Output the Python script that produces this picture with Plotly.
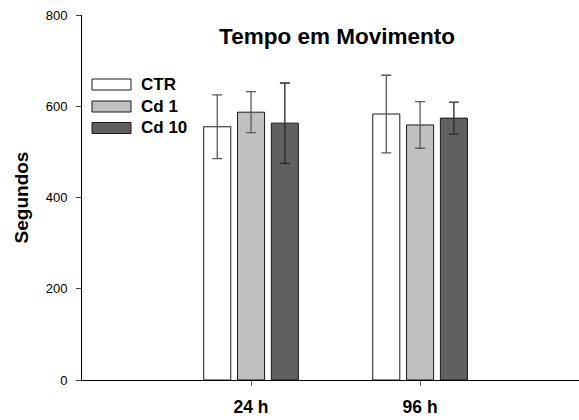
import plotly.graph_objects as go

# Time points and groups
times = ["24 h", "96 h"]
groups = ["CTR", "Cd 1", "Cd 10"]

# Mean time in movement (s) and error for each group
ctr_mean = [555, 583]
ctr_err = [70, 85]
cd1_mean = [587, 559]
cd1_err = [45, 51]
cd10_mean = [563, 574]
cd10_err = [88, 35]

y_ticks = [0, 200, 400, 600, 800]

fills = ["#ffffff", "#c0c0c0", "#606060"]
err_colors = ["#5a5a5a", "#5a5a5a", "#2a2a2a"]

W, H = 579, 420
ML, MR, MT, MB = 82, 0, 15, 40
PW, PH = W - ML - MR, H - MT - MB


def px_x(px):
    return (px - ML) / PW


def px_y(py):
    return (H - MB - py) / PH


fig = go.Figure()
series = [(ctr_mean, ctr_err), (cd1_mean, cd1_err), (cd10_mean, cd10_err)]
for i, (name, (m, e)) in enumerate(zip(groups, series)):
    fig.add_trace(go.Bar(
        x=times, y=m, name=name,
        marker=dict(color=fills[i], line=dict(color="#1a1a1a", width=1)),
        error_y=dict(type="data", array=e, visible=True,
                     color=err_colors[i], thickness=1.3, width=5),
        showlegend=False,
    ))

# Legend drawn as wide swatches with bold labels
shapes = []
annotations = []
row_y = [84.5, 106.5, 128]
for i, name in enumerate(groups):
    cy = row_y[i]
    shapes.append(dict(
        type="rect", xref="paper", yref="paper",
        x0=px_x(92), x1=px_x(131), y0=px_y(cy + 5.5), y1=px_y(cy - 5.5),
        fillcolor=fills[i], line=dict(color="#1a1a1a", width=1),
    ))
    annotations.append(dict(
        xref="paper", yref="paper", x=px_x(139), y=px_y(cy),
        xanchor="left", yanchor="middle", text="<b>%s</b>" % name,
        showarrow=False, font=dict(family="Arial, Liberation Sans", size=17, color="#000"),
    ))

fig.update_layout(
    width=W, height=H,
    margin=dict(l=ML, r=MR, t=MT, b=MB, pad=0),
    paper_bgcolor="white", plot_bgcolor="white",
    barmode="group", bargap=0.4, bargroupgap=0.2,
    font=dict(family="Arial, Liberation Sans", color="#000"),
    title=dict(text="<b>Tempo em Movimento</b>", x=px_x(337), xref="paper",
               xanchor="center", y=1 - 36 / H, yanchor="middle",
               font=dict(size=22.5, color="#000")),
    shapes=shapes, annotations=annotations,
)

fig.update_xaxes(
    type="category", range=[-1, 1.94],
    showline=True, linecolor="#000", linewidth=1.3,
    ticks="outside", ticklen=5, tickcolor="#666", tickwidth=1,
    tickfont=dict(size=17.5), ticklabelstandoff=6,
    tickprefix="<b>", ticksuffix="</b>",
    showgrid=False, zeroline=False,
)
fig.update_yaxes(
    range=[0, 800], tickvals=y_ticks,
    showline=True, linecolor="#000", linewidth=1,
    ticks="outside", ticklen=5, tickcolor="#444", tickwidth=1,
    tickfont=dict(size=13), ticklabelstandoff=6,
    showgrid=False, zeroline=False,
    title=dict(text="<b>Segundos</b>", font=dict(size=19), standoff=12),
)

fig.write_html("out.html")
